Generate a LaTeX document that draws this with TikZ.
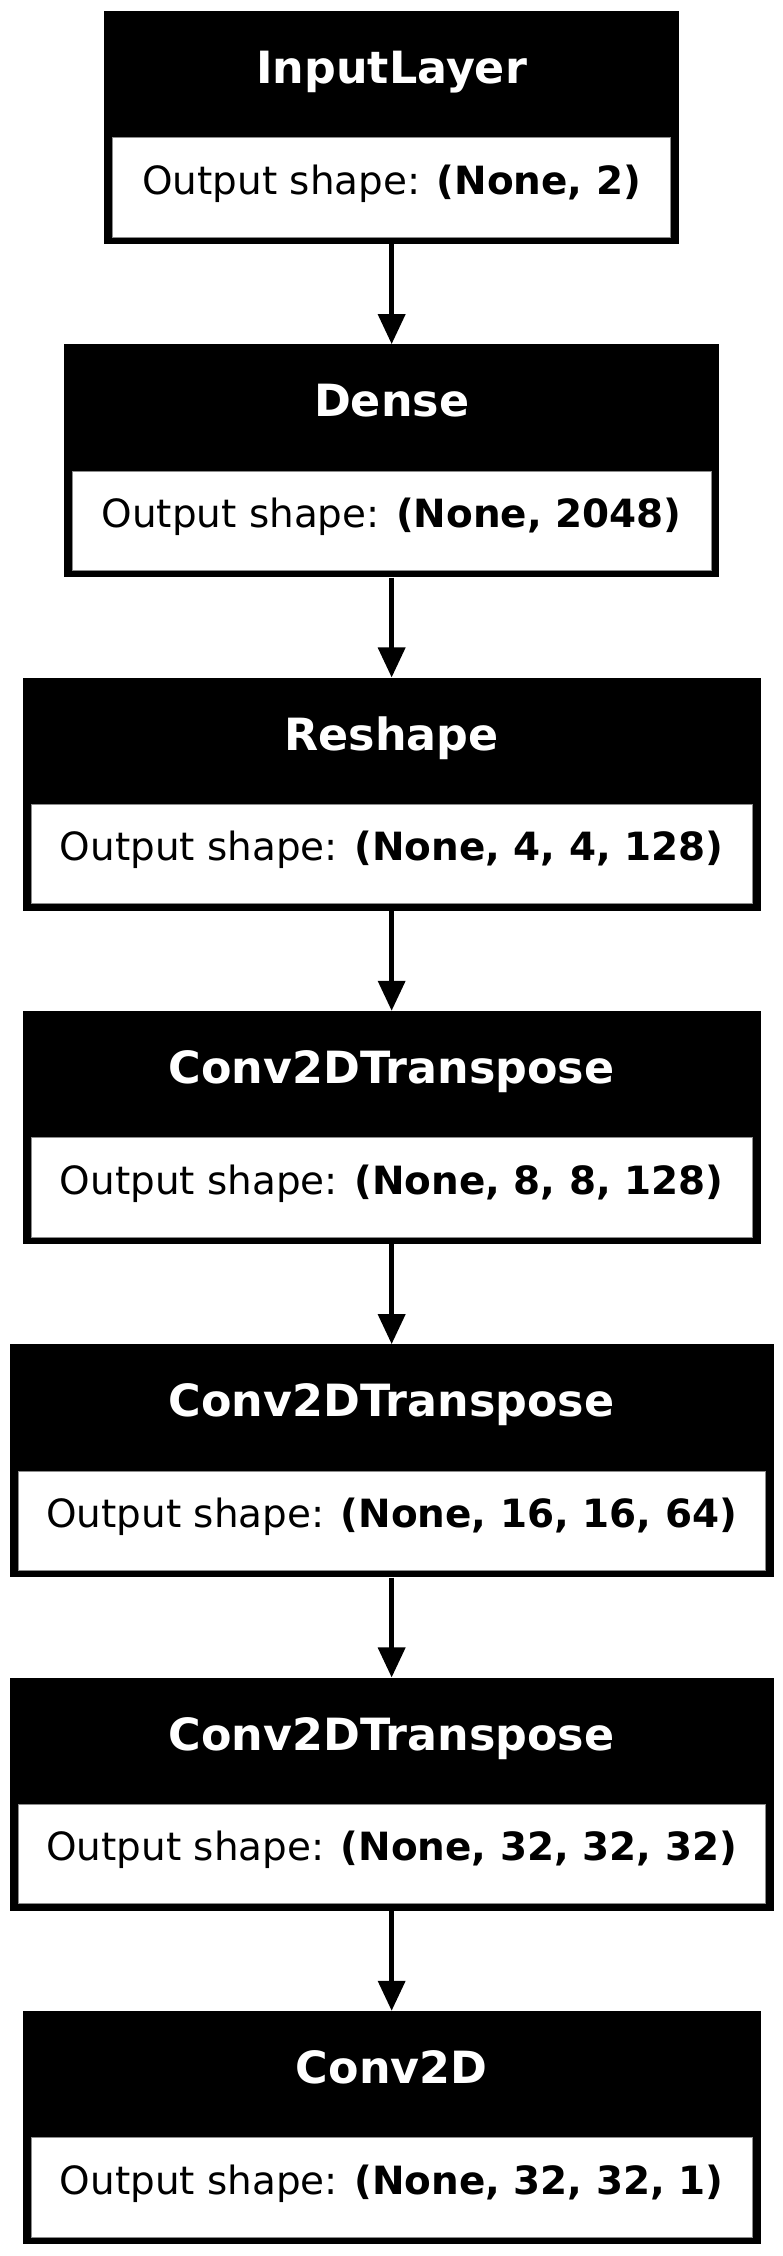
\documentclass[tikz,border=0pt]{standalone}
\usepackage{fontspec}
\setmainfont{DejaVu Sans}
\usetikzlibrary{arrows.meta}
\tikzset{
  outerbox/.style={rectangle, fill=black, draw=none, inner sep=0pt, minimum height=233pt},
  innerbox/.style={rectangle, fill=white, draw=black!45, line width=0.6pt, inner sep=0pt, minimum height=99.4pt},
  titletext/.style={anchor=base, text=white, inner sep=0pt, font=\fontsize{44.4}{53}\selectfont\bfseries},
  shapetext/.style={anchor=base, text=black, inner sep=0pt, font=\fontsize{38.9}{47}\selectfont},
  conn/.style={line width=4.7pt, -{Triangle[length=30pt,width=26.7pt]}}
}
\newcommand\klayer[5]{%
  \node[outerbox, minimum width=#3pt] (#1) at (391.65,#2+116.5) {};
  \node[innerbox, minimum width=#3pt-16.6pt] (#1w) at (391.65,#2+176.3) {};
  \node[titletext] (#1t) at (391.65,#2+72.5) {#4};
  \node[shapetext] (#1s) at (391.65,#2+183) {Output shape: \textbf{#5}};
}
\begin{document}
\begin{tikzpicture}[x=1pt,y=-1pt]
  \fill[white] (0,0) rectangle (783,2256);
  \useasboundingbox (0,0) rectangle (783,2256);
  \klayer{b1}{11}{574.7}{InputLayer}{(None, 2)}
  \klayer{b2}{344.33}{655}{Dense}{(None, 2048)}
  \klayer{b3}{677.67}{738}{Reshape}{(None, 4, 4, 128)}
  \klayer{b4}{1011}{738}{Conv2DTranspose}{(None, 8, 8, 128)}
  \klayer{b5}{1344.33}{764}{Conv2DTranspose}{(None, 16, 16, 64)}
  \klayer{b6}{1677.67}{764}{Conv2DTranspose}{(None, 32, 32, 32)}
  \klayer{b7}{2011}{738}{Conv2D}{(None, 32, 32, 1)}
  \draw[conn] (b1.south) -- (b2.north);
  \draw[conn] (b2.south) -- (b3.north);
  \draw[conn] (b3.south) -- (b4.north);
  \draw[conn] (b4.south) -- (b5.north);
  \draw[conn] (b5.south) -- (b6.north);
  \draw[conn] (b6.south) -- (b7.north);
\end{tikzpicture}
\end{document}
